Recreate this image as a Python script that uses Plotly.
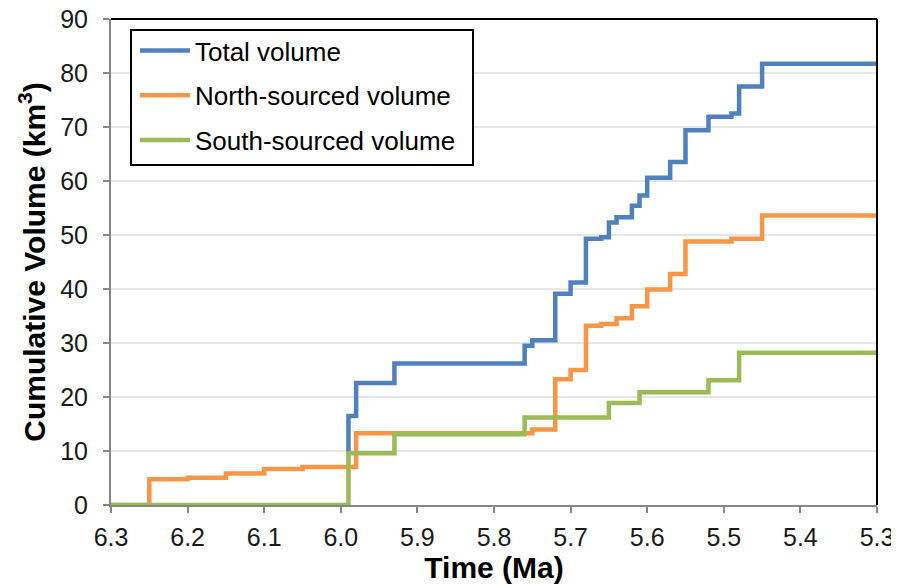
import plotly.graph_objects as go

# Step times (Ma) and cumulative volumes (km^3) after each step
total_t = [5.99, 5.99, 5.98, 5.93, 5.76, 5.75, 5.72, 5.70, 5.68, 5.66, 5.65, 5.64, 5.62, 5.61, 5.60, 5.57, 5.55, 5.52, 5.49, 5.48, 5.45, 5.30]
total_v = [9.5, 16.5, 22.6, 26.2, 29.5, 30.5, 39.1, 41.2, 49.3, 49.6, 52.3, 53.3, 55.4, 57.3, 60.6, 63.5, 69.4, 71.9, 72.5, 77.5, 81.7, 81.7]

north_t = [6.30, 6.25, 6.20, 6.15, 6.10, 6.05, 5.98, 5.75, 5.72, 5.70, 5.68, 5.66, 5.64, 5.62, 5.60, 5.57, 5.55, 5.49, 5.45, 5.30]
north_v = [0.0, 4.75, 5.05, 5.85, 6.65, 7.05, 13.3, 14.0, 23.3, 25.0, 33.2, 33.5, 34.6, 36.8, 39.9, 42.8, 48.8, 49.3, 53.6, 53.6]

south_t = [6.30, 5.99, 5.93, 5.76, 5.65, 5.61, 5.52, 5.48, 5.30]
south_v = [0.0, 9.6, 13.1, 16.2, 18.9, 20.9, 23.1, 28.2, 28.2]

x_ticks = [6.3, 6.2, 6.1, 6.0, 5.9, 5.8, 5.7, 5.6, 5.5, 5.4, 5.3]
x_tick_labels = ["6.3", "6.2", "6.1", "6.0", "5.9", "5.8", "5.7", "5.6", "5.5", "5.4", "5.3"]
y_ticks = [0, 10, 20, 30, 40, 50, 60, 70, 80, 90]

series = [
    ("Total volume", total_t, total_v, "#4F81BD"),
    ("North-sourced volume", north_t, north_v, "#F79646"),
    ("South-sourced volume", south_t, south_v, "#9BBB59"),
]

fig = go.Figure()
for i, (name, t, v, c) in enumerate(series):
    fig.add_trace(go.Scatter(
        x=t, y=v, mode="lines", name=name, line=dict(color=c, width=4.5, shape="hv"),
        legendgroup=f"g{i}",
    ))

font_family = "Liberation Sans, Arial, sans-serif"
# page body has an 8px margin, so the figure is 8px smaller and margins shifted
fig.update_layout(
    width=891, height=580,
    margin=dict(l=103, r=22, t=11, b=83, autoexpand=False),
    paper_bgcolor="white", plot_bgcolor="white",
    font=dict(family=font_family, size=25, color="#1a1a1a"),
    showlegend=True,
    legend=dict(
        x=0.0313, y=0.9835, xanchor="left", yanchor="top",
        bgcolor="rgba(0,0,0,0)", borderwidth=0,
        font=dict(size=26, color="#000000"),
        traceorder="grouped", tracegroupgap=8,
        itemwidth=50,
    ),
    xaxis=dict(
        range=[6.3, 5.3], tickvals=x_ticks, ticktext=x_tick_labels,
        showgrid=False, zeroline=False, automargin=False,
        showline=True, linecolor="#868686", linewidth=2,
        ticks="outside", ticklen=6, tickcolor="#868686", tickwidth=2,
        tickfont=dict(size=25, color="#1a1a1a"),
        ticklabeloverflow="allow", ticklabelstandoff=3,
        title=dict(text="<b>Time (Ma)</b>", font=dict(size=30, color="#000000"), standoff=5),
    ),
    yaxis=dict(
        range=[0, 90], tickvals=y_ticks,
        showgrid=True, gridcolor="#E6E6E6", gridwidth=2,
        zeroline=False, automargin=False,
        showline=True, linecolor="#868686", linewidth=2,
        ticks="outside", ticklen=6, tickcolor="#868686", tickwidth=2,
        tickfont=dict(size=25, color="#1a1a1a"),
        ticklabeloverflow="allow", ticklabelstandoff=10,
        title=dict(text="<b>Cumulative Volume (km<sup>3</sup>)</b>", font=dict(size=30, color="#000000"), standoff=6),
    ),
    shapes=[
        dict(type="rect", xref="paper", yref="paper", x0=0.0261, x1=0.4726, y0=0.6996, y1=0.9774,
             fillcolor="white", line=dict(color="black", width=2), layer="above"),
        dict(type="line", xref="paper", yref="paper", x0=0, x1=1, y0=1, y1=1, line=dict(color="black", width=2)),
        dict(type="line", xref="paper", yref="paper", x0=1, x1=1, y0=0, y1=1, line=dict(color="black", width=2)),
    ],
)

fig.write_html("out.html")
